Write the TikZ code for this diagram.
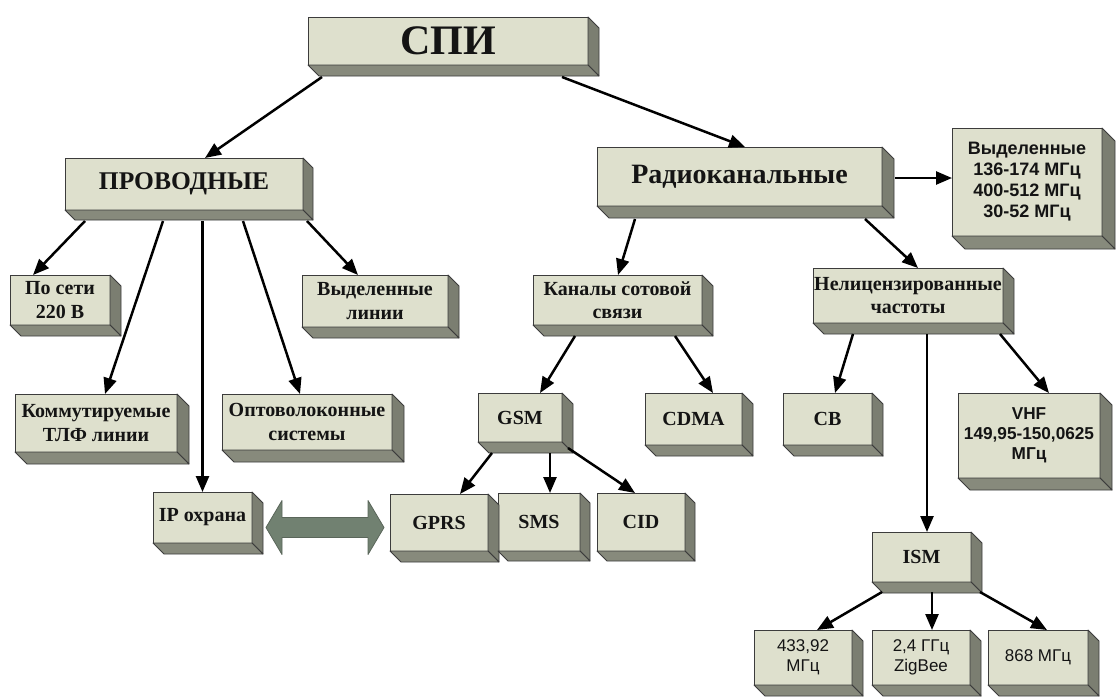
\documentclass[tikz,border=0pt]{standalone}
\usepackage{fontspec}
\setmainfont{Liberation Serif}
\setsansfont{Liberation Sans}
\usetikzlibrary{arrows.meta,calc}
\definecolor{front}{HTML}{DEE0CD}
\definecolor{sideR}{HTML}{7B7E71}
\definecolor{sideB}{HTML}{878A7C}
\definecolor{edge}{HTML}{3C3C3C}
\definecolor{dblfill}{HTML}{718171}
\definecolor{dbledge}{HTML}{5A665A}
\definecolor{ink}{HTML}{141414}
\tikzset{
  box/.style={draw=edge, fill=front, line width=0.8pt, inner sep=1pt, outer sep=0pt, align=center, text=ink},
  sL/.style={font=\fontsize{20}{23.5}\selectfont\bfseries},
  sXL/.style={font=\fontsize{25.5}{28}\selectfont\bfseries},
  sXR/.style={font=\fontsize{28}{30}\selectfont\bfseries},
  sXXL/.style={font=\fontsize{42}{44}\selectfont\bfseries},
  ssB/.style={font=\fontsize{18}{21}\selectfont\sffamily\bfseries},
  ssV/.style={font=\fontsize{17.2}{20}\selectfont\sffamily\bfseries},
  ssR/.style={font=\fontsize{17}{20}\selectfont\sffamily},
  conn/.style={line width=2.5pt, draw=black, -{Triangle[length=16pt,width=13pt]}},
  faceR/.style={fill=sideR, draw=edge, line width=0.8pt, line join=round},
  faceB/.style={fill=sideB, draw=edge, line width=0.8pt, line join=round}
}
\begin{document}
\begin{tikzpicture}[x=1pt,y=-1pt]
\useasboundingbox (0,0) rectangle (1116,697);
\fill[white] (0,0) rectangle (1116,697);

% boxes (front faces)
\node[box, sXXL, minimum width=280pt, minimum height=48pt] (spi) at (448,41) {СПИ};
\node[box, sXL, minimum width=238pt, minimum height=52pt] (prov) at (184,184) {ПРОВОДНЫЕ};
\node[box, sXR, minimum width=285pt, minimum height=59pt] (radio) at (739.5,176.5) {Радиоканальные};
\node[box, ssB, minimum width=150pt, minimum height=108pt] (vyd) at (1027,182) {Выделенные\\136-174 МГц\\400-512 МГц\\30-52 МГц};
\node[box, sL, minimum width=100pt, minimum height=50pt] (poseti) at (60,300) {По сети\\220 В};
\node[box, sL, minimum width=146pt, minimum height=52pt] (vydlin) at (375,301) {Выделенные\\линии};
\node[box, sL, minimum width=169pt, minimum height=50pt] (kanaly) at (617.5,300) {Каналы сотовой\\связи};
\node[box, sL, minimum width=190pt, minimum height=55pt] (nelic) at (908,295.5) {Нелицензированные\\частоты};
\node[box, sL, minimum width=162pt, minimum height=58pt] (komm) at (96,423) {Коммутируемые\\ТЛФ линии};
\node[box, sL, minimum width=170pt, minimum height=56pt] (opto) at (307,422) {Оптоволоконные\\системы};
\node[box, sL, minimum width=84pt, minimum height=49pt] (gsm) at (520,417.5) {GSM};
\node[box, sL, minimum width=97pt, minimum height=52pt] (cdma) at (693.5,419) {CDMA};
\node[box, sL, minimum width=89pt, minimum height=52pt] (cb) at (827.5,419) {СВ};
\node[box, ssV, minimum width=142pt, minimum height=85pt] (vhf) at (1029,435.5) {VHF\\149,95-150,0625\\МГц};
\node[box, sL, minimum width=99pt, minimum height=51pt] (ip) at (202.5,517.5) {IP охрана};
\node[box, sL, minimum width=98pt, minimum height=57pt] (gprs) at (439,522.5) {GPRS};
\node[box, sL, minimum width=82pt, minimum height=58pt] (sms) at (539,522) {SMS};
\node[box, sL, minimum width=88pt, minimum height=58pt] (cid) at (641,522) {CID};
\node[box, sL, minimum width=99pt, minimum height=50pt] (ism) at (921.5,557) {ISM};
\node[box, ssR, minimum width=98pt, minimum height=55pt] (f433) at (803,657.5) {433,92\\МГц};
\node[box, ssR, minimum width=98pt, minimum height=55pt] (f24) at (921,657.5) {2,4 ГГц\\ZigBee};
\node[box, ssR, minimum width=100pt, minimum height=55pt] (f868) at (1038,657.5) {868 МГц};

% 3D extrusion faces
\foreach \n/\dd in {spi/11, prov/10, radio/12, vyd/13, poseti/11, vydlin/11, kanaly/11, nelic/11,
  komm/12, opto/12, gsm/11, cdma/11, cb/11, vhf/12, ip/11, gprs/11, sms/10, cid/10, ism/11,
  f433/11, f24/11, f868/11} {
  \path[faceR] (\n.north east) -- ++(\dd,\dd) -- ([shift={(\dd,\dd)}]\n.south east) -- (\n.south east) -- cycle;
  \path[faceB] (\n.south west) -- (\n.south east) -- ++(\dd,\dd) -- ([shift={(\dd,\dd)}]\n.south west) -- cycle;
}

% connectors
\draw[conn] ([shift={(14,12)}]spi.south west) -- ([shift={(140,0)}]prov.north west);
\draw[conn] ([shift={(-26,12)}]spi.south east) -- ([shift={(148,0)}]radio.north west);

\draw[conn] ([shift={(20,11)}]prov.south west) -- ([shift={(23,0)}]poseti.north west);
\draw[conn] ([shift={(98,11)}]prov.south west) -- ([shift={(90,0)}]komm.north west);
\draw[conn] ([shift={(137.5,11)}]prov.south west) -- (ip.north);
\draw[conn] ([shift={(178,11)}]prov.south west) -- ([shift={(78,0)}]opto.north west);
\draw[conn] ([shift={(242,11)}]prov.south west) -- ([shift={(56,0)}]vydlin.north west);

\coordinate (rv) at ([shift={(13,1.5)}]radio.east);
\draw[conn] (rv) -- (rv -| vyd.west);
\draw[conn] ([shift={(38,13)}]radio.south west) -- ([shift={(85,0)}]kanaly.north west);
\draw[conn] ([shift={(268,13)}]radio.south west) -- ([shift={(105,0)}]nelic.north west);

\draw[conn] ([shift={(42,11)}]kanaly.south west) -- ([shift={(62,0)}]gsm.north west);
\draw[conn] ([shift={(142,11)}]kanaly.south west) -- ([shift={(68,0)}]cdma.north west);

\draw[conn] ([shift={(40,11)}]nelic.south west) -- ([shift={(52,0)}]cb.north west);
\draw[conn] ([shift={(114,11)}]nelic.south west) -- ([shift={(55,0)}]ism.north west);
\draw[conn] ([shift={(187,11)}]nelic.south west) -- ([shift={(91,0)}]vhf.north west);

\draw[conn] ([shift={(14,11)}]gsm.south west) -- ([shift={(70,0)}]gprs.north west);
\draw[conn] ([shift={(72,11)}]gsm.south west) -- ([shift={(52,0)}]sms.north west);
\draw[conn] ([shift={(6,6)}]gsm.south east) -- ([shift={(38,0)}]cid.north west);

\draw[conn] ([shift={(10,10)}]ism.south west) -- ([shift={(63,0)}]f433.north west);
\draw[conn] ([shift={(60,10)}]ism.south west) -- ([shift={(60,0)}]f24.north west);
\draw[conn] ([shift={(108,10)}]ism.south west) -- ([shift={(59,0)}]f868.north west);

% double arrow IP <-> GPRS
\coordinate (da1) at ([shift={(14,10)}]ip.east);
\coordinate (da2) at ($(da1 -| gprs.west)+(-6,0)$);
\filldraw[fill=dblfill, draw=dbledge, line width=0.8pt, line join=round]
  (da1) -- ($(da1)+(16,-27)$) -- ($(da1)+(16,-10)$) -- ($(da2)+(-16,-10)$) -- ($(da2)+(-16,-27)$)
  -- (da2) -- ($(da2)+(-16,27)$) -- ($(da2)+(-16,10)$) -- ($(da1)+(16,10)$) -- ($(da1)+(16,27)$) -- cycle;
\end{tikzpicture}
\end{document}
